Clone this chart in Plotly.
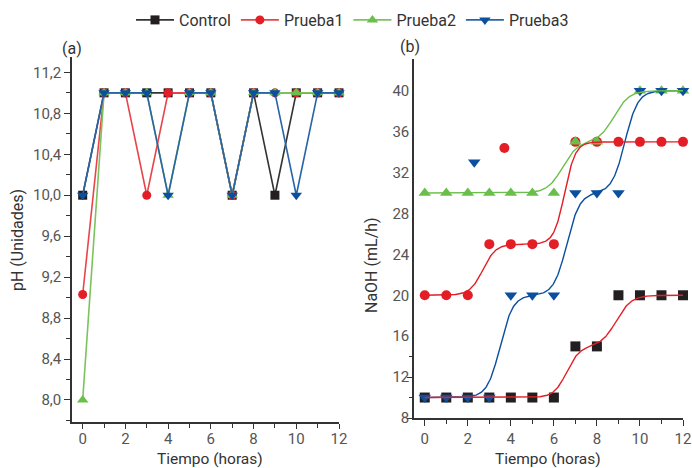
import numpy as np
import plotly.graph_objects as go

# ---------------- data ----------------
hours = [0, 1, 2, 3, 4, 5, 6, 7, 8, 9, 10, 11, 12]

# panel (a): pH
ph_control = [10.0, 11.0, 11.0, 11.0, 11.0, 11.0, 11.0, 10.0, 11.0, 10.0, 11.0, 11.0, 11.0]
ph_prueba1 = [9.03, 11.0, 11.0, 10.0, 11.0, 11.0, 11.0, 10.0, 11.0, 11.0, 11.0, 11.0, 11.0]
ph_prueba2 = [8.0, 11.0, 11.0, 11.0, 10.0, 11.0, 11.0, 10.0, 11.0, 11.0, 11.0, 11.0, 11.0]
ph_prueba3 = [10.0, 11.0, 11.0, 11.0, 10.0, 11.0, 11.0, 10.0, 11.0, 11.0, 10.0, 11.0, 11.0]

# panel (b): NaOH
naoh_control_x = [0, 1, 2, 3, 4, 5, 6, 7, 8, 9, 10, 11, 12]
naoh_control = [10, 10, 10, 10, 10, 10, 10, 15, 15, 20, 20, 20, 20]
naoh_prueba1_x = [0, 1, 2, 3, 4, 5, 6, 7, 8, 9, 10, 11, 12, 3.7]
naoh_prueba1 = [20, 20, 20, 25, 25, 25, 25, 35, 35, 35, 35, 35, 35, 34.4]
naoh_prueba2_x = [0, 1, 2, 3, 4, 5, 6, 7, 8, 10, 11, 12]
naoh_prueba2 = [30, 30, 30, 30, 30, 30, 30, 35, 35, 40, 40, 40]
naoh_prueba3_x = [0, 1, 2, 3, 4, 5, 6, 7, 8, 9, 10, 11, 12, 2.3]
naoh_prueba3 = [10, 10, 10, 10, 20, 20, 20, 30, 30, 30, 40, 40, 40, 33]

# fitted step curves: base level, step heights, step centres, step widths
fit_control = dict(base=10, amps=[5, 5], centers=[6.6, 8.9], widths=[0.3, 0.35])
fit_prueba1 = dict(base=20, amps=[5, 10], centers=[2.7, 6.5], widths=[0.3, 0.25])
fit_prueba2 = dict(base=30, amps=[5, 5], centers=[6.4, 8.8], widths=[0.35, 0.35])
fit_prueba3 = dict(base=10, amps=[10, 10, 10], centers=[3.5, 6.6, 9.3], widths=[0.3, 0.3, 0.3])

names = ["Control", "Prueba1", "Prueba2", "Prueba3"]
colors = ["#231f20", "#e31e26", "#6abf4b", "#0b4f9e"]
line_colors = ["#333333", "#e8454b", "#7cc35f", "#2a64a8"]
symbols = ["square", "circle", "triangle-up", "triangle-down"]
msizes = [9, 9, 10, 10]


def step_curve(p, x):
    y = np.full_like(x, float(p["base"]))
    for a, c, w in zip(p["amps"], p["centers"], p["widths"]):
        y = y + a / (1.0 + np.exp(-(x - c) / w))
    return y


fig = go.Figure()

ph_series = [ph_control, ph_prueba1, ph_prueba2, ph_prueba3]
for i in range(4):
    fig.add_trace(go.Scatter(
        x=hours, y=ph_series[i], mode="lines+markers", name=names[i],
        line=dict(color=line_colors[i], width=1.6),
        marker=dict(symbol=symbols[i], size=msizes[i], color=colors[i]),
        xaxis="x", yaxis="y", cliponaxis=False, legendgroup=names[i]))

naoh_x = [naoh_control_x, naoh_prueba1_x, naoh_prueba2_x, naoh_prueba3_x]
naoh_y = [naoh_control, naoh_prueba1, naoh_prueba2, naoh_prueba3]
for i in range(4):
    fig.add_trace(go.Scatter(
        x=naoh_x[i], y=naoh_y[i], mode="markers", name=names[i],
        marker=dict(symbol=symbols[i], size=msizes[i] + 1, color=colors[i]),
        xaxis="x2", yaxis="y2", cliponaxis=False, showlegend=False,
        legendgroup=names[i]))

xs = np.linspace(0, 12, 400)
fits = [fit_prueba3, fit_prueba2, fit_prueba1, fit_control]
fit_colors = ["#0b4f9e", "#6abf4b", "#e31e26", "#e31e26"]
for p, c in zip(fits, fit_colors):
    fig.add_trace(go.Scatter(
        x=xs, y=step_curve(p, xs), mode="lines", line=dict(color=c, width=1.4),
        xaxis="x2", yaxis="y2", showlegend=False, hoverinfo="skip"))

W, H = 692, 468
tickfont = dict(family="Roboto", size=15, color="#555555")
axis_common = dict(showline=True, linecolor="#333333", linewidth=1.5,
                   tickwidth=1.3, tickcolor="#333333",
                   showgrid=False, zeroline=False, tickfont=tickfont,
                   automargin=False, mirror=False)

y2_dom = [(H - 418) / H, (H - 59) / H]
y2_range = [8, 43.1]

fig.update_layout(
    width=W, height=H, margin=dict(l=0, r=0, t=0, b=0),
    paper_bgcolor="white", plot_bgcolor="white",
    separators=",.",
    font=dict(family="Roboto", color="#333333"),
    xaxis=dict(domain=[72 / W, 339 / W], range=[-0.5, 12], dtick=2, tick0=0,
               ticks="outside", ticklen=5, ticklabelstandoff=-3,
               minor=dict(dtick=1, ticks="outside", ticklen=4, tickcolor="#333333"),
               anchor="y", **axis_common),
    yaxis=dict(domain=[(H - 422) / H, (H - 57) / H], range=[7.785, 11.35],
               dtick=0.4, tick0=8.0, tickformat=".1f", ticks="outside", ticklen=6,
               minor=dict(dtick=0.2, ticks="outside", ticklen=4, tickcolor="#333333"),
               anchor="x", **axis_common),
    xaxis2=dict(domain=[414 / W, 683 / W], range=[-0.5, 12], dtick=2, tick0=0,
                ticks="outside", ticklen=6,
                minor=dict(dtick=1, ticks="outside", ticklen=4, tickcolor="#333333"),
                anchor="y2", **axis_common),
    yaxis2=dict(domain=y2_dom, range=y2_range, dtick=4, tick0=8, ticks="",
                ticklen=6, anchor="x2", **axis_common),
    # tick marks of panel (b) only appear near the bottom of its y axis
    yaxis3=dict(domain=y2_dom, range=y2_range, overlaying="y2", anchor="x2",
                tickmode="array", tickvals=[8, 12], showticklabels=False,
                ticks="outside", ticklen=6, tickwidth=1.3, tickcolor="#333333",
                minor=dict(tickmode="array", tickvals=[10, 14], ticks="outside",
                           ticklen=4, tickcolor="#333333"),
                showline=False, showgrid=False, zeroline=False, automargin=False),
    legend=dict(orientation="h", x=131 / W, y=1 - 20 / H, xanchor="left",
                yanchor="middle", font=dict(family="Roboto", size=16, color="#333333"),
                itemwidth=38, tracegroupgap=0, bgcolor="rgba(0,0,0,0)"),
    showlegend=True,
)

# invisible trace so the tick-only axis is drawn
fig.add_trace(go.Scatter(x=[None], y=[None], xaxis="x2", yaxis="y3",
                         showlegend=False, hoverinfo="skip"))

annots = [
    dict(text="(a)", x=72 / W, y=1 - 49 / H, size=16),
    dict(text="(b)", x=410 / W, y=1 - 47 / H, size=16),
    dict(text="Tiempo (horas)", x=210 / W, y=1 - 459 / H, size=15.5),
    dict(text="Tiempo (horas)", x=548 / W, y=1 - 459 / H, size=15.5),
    dict(text="pH (Unidades)", x=18 / W, y=1 - 240 / H, textangle=-90, size=16),
    dict(text="NaOH (mL/h)", x=371 / W, y=1 - 265 / H, textangle=-90, size=16),
]
for a in annots:
    size = a.pop("size")
    fig.add_annotation(xref="paper", yref="paper", showarrow=False,
                       xanchor="center", yanchor="middle",
                       font=dict(family="Roboto", size=size, color="#333333"), **a)

fig.write_html("out.html")
